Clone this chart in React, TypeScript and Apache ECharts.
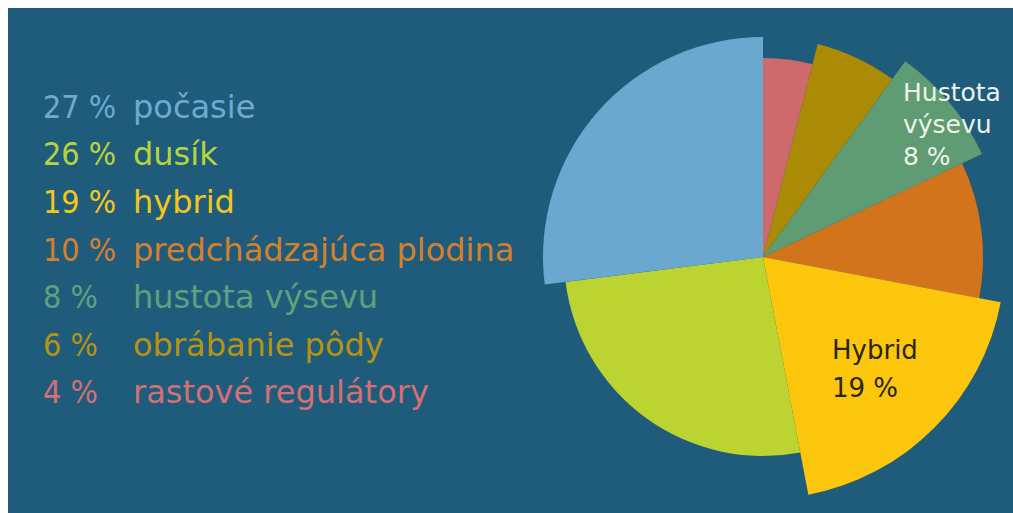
import React, { useEffect, useRef } from "react";
import * as echarts from "echarts";

// Slices clockwise from 12 o'clock
const names = [
  "rastové regulátory",
  "obrábanie pôdy",
  "hustota výsevu",
  "predchádzajúca plodina",
  "hybrid",
  "dusík",
  "počasie",
];
const values = [4, 6, 8, 10, 19, 26, 27];
const sliceColors = ["#cf6a6c", "#ab8a06", "#5f9b73", "#d2741c", "#fcc60c", "#bcd432", "#6aa8cf"];
const textColors = ["#d46f73", "#b69312", "#62a07d", "#d6802b", "#f3c71a", "#b7d43a", "#6faad0"];
// radius tier of each slice (visual style)
const tiers = [0, 1, 2, 1, 2, 0, 1];
const tierRadius = [199, 220, 242];
// legend order (top to bottom)
const legendOrder = ["počasie", "dusík", "hybrid", "predchádzajúca plodina", "hustota výsevu", "obrábanie pôdy", "rastové regulátory"];
// slices with annotations inside the pie
const labelled = ["hustota výsevu", "hybrid"];

const FONT = "'DejaVu Sans', sans-serif";
const FONT_C = "'DejaVu Sans Condensed', 'DejaVu Sans', sans-serif";
const BG = "#1f5c7c";

export default function App() {
  const ref = useRef<HTMLDivElement>(null);
  useEffect(() => {
    document.documentElement.style.overflow = "hidden";
    document.body.style.overflow = "hidden";
    const chart = echarts.init(ref.current!, null, { renderer: "svg" });
    const center = [755, 249];
    const series = tierRadius.map((r, k) => ({
      type: "pie",
      center,
      radius: [0, r],
      startAngle: 90,
      clockwise: true,
      silent: true,
      avoidLabelOverlap: false,
      itemStyle: { borderWidth: 0 },
      emphasis: { disabled: true },
      labelLine: { show: false },
      label: { show: false },
      labelLayout: (p: any) => {
        if (p.dataIndex === 2) return { x: 895, y: 116, align: "left", verticalAlign: "middle" };
        if (p.dataIndex === 4) return { x: 824, y: 361, align: "left", verticalAlign: "middle" };
        return {};
      },
      data: names.map((n, i) => {
        const visible = tiers[i] === k;
        const showLabel = visible && labelled.includes(n);
        const cap = n.charAt(0).toUpperCase() + n.slice(1);
        return {
          name: n,
          value: values[i],
          itemStyle: { color: visible ? sliceColors[i] : "rgba(0,0,0,0)" },
          label: showLabel
            ? {
                show: true,
                position: "inside",
                formatter: cap.replace(" ", "\n") + "\n" + values[i] + " %",
                color: i === 2 ? "#eef3ea" : "#2a2514",
                fontFamily: FONT,
                fontSize: i === 2 ? 25 : 26,
                lineHeight: i === 2 ? 32 : 38,
                align: "left",
              }
            : { show: false },
        };
      }),
    }));
    chart.setOption({
      animation: false,
      backgroundColor: BG,
      legend: {
        orient: "vertical",
        left: 30,
        top: 75,
        padding: 0,
        itemGap: 0,
        itemWidth: 0,
        itemHeight: 10,
        icon: "none",
        selectedMode: false,
        data: legendOrder.map((n) => ({
          name: n,
          textStyle: { color: textColors[names.indexOf(n)] },
        })),
        formatter: (n: string) => `{p|${values[names.indexOf(n)]} %}{n|${n}}`,
        textStyle: {
          fontFamily: FONT,
          fontSize: 32,
          lineHeight: 47.6,
          rich: {
            p: { width: 90, fontFamily: FONT_C, fontSize: 32, lineHeight: 47.6 },
            n: { fontFamily: FONT, fontSize: 32, lineHeight: 47.6 },
          },
        },
      },
      series,
    });
    return () => chart.dispose();
  }, []);
  return (
    <div
      ref={ref}
      style={{ position: "absolute", left: 8, top: 8, width: 1005, height: 505 }}
    />
  );
}
